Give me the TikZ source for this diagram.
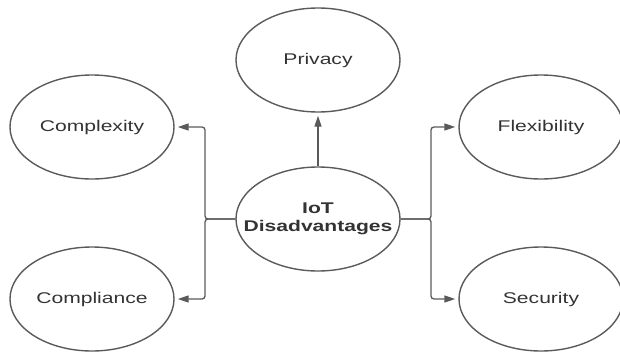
\documentclass[tikz,border=0pt]{standalone}
\usepackage{fontspec}
\setmainfont{Liberation Sans}
\usetikzlibrary{shapes.geometric,arrows.meta}
\definecolor{edge}{HTML}{5A5A5A}
\definecolor{ink}{HTML}{333333}
\tikzset{
  bub/.style={ellipse,draw=edge,line width=1.4pt,inner sep=0pt,
    minimum width=164pt,minimum height=104pt},
  txt/.style={text=ink,align=center,inner sep=0pt,
    font=\fontsize{15.5}{18}\selectfont},
  conn/.style={draw=edge,line width=1.3pt,rounded corners=3pt,
    -{Triangle[length=11pt,width=7pt]},shorten >=3pt}
}
\newcommand{\wide}[1]{\scalebox{1.36}[1]{#1}}
\begin{document}
\begin{tikzpicture}[x=1pt,y=-1pt]
\useasboundingbox (0,0) rectangle (620,353);
\node[bub] (c) at (318,219) {};
\node[bub] (pr) at (318,60) {};
\node[bub] (cx) at (92,127) {};
\node[bub] (cp) at (92,299) {};
\node[bub] (fl) at (541,127) {};
\node[bub] (se) at (541,299) {};
\node[txt] (ct) at (c) {\wide{\textbf{IoT}}\\\wide{\textbf{Disadvantages}}};
\node[txt] (prt) at (pr) {\wide{Privacy}};
\node[txt] (cxt) at (cx) {\wide{Complexity}};
\node[txt] (cpt) at (cp) {\wide{Compliance}};
\node[txt] (flt) at (fl) {\wide{Flexibility}};
\node[txt] (set) at (se) {\wide{Security}};
\coordinate (lb) at (205,219);
\coordinate (rb) at (431,219);
\draw[conn] (c.west) -- (lb) |- (cx.east);
\draw[conn] (c.west) -- (lb) |- (cp.east);
\draw[conn] (c.east) -- (rb) |- (fl.west);
\draw[conn] (c.east) -- (rb) |- (se.west);
\draw[conn] (c.north) -- (pr.south);
\end{tikzpicture}
\end{document}
